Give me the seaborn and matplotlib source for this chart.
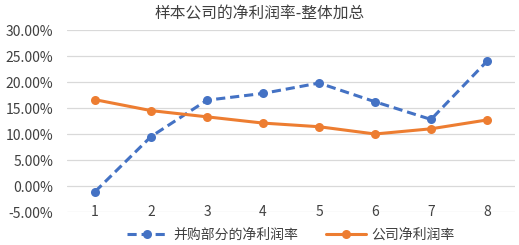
import matplotlib
matplotlib.use('Agg')
import matplotlib.pyplot as plt
import pandas as pd
import seaborn as sns
from matplotlib.ticker import FuncFormatter

periods = [1, 2, 3, 4, 5, 6, 7, 8]
ma_margin = [-1.1, 9.5, 16.5, 17.8, 19.8, 16.2, 12.8, 24.0]
company_margin = [16.6, 14.5, 13.3, 12.1, 11.4, 10.0, 11.0, 12.7]
series_names = ['并购部分的净利润率', '公司净利润率']
title = '样本公司的净利润率-整体加总'

sns.set_style('white')
plt.rcParams['font.family'] = ['Noto Sans CJK SC', 'DejaVu Sans']

df = pd.DataFrame({'period': periods, 'ma': ma_margin, 'co': company_margin})

fig = plt.figure(figsize=(5.19, 2.45), dpi=100)
ax = fig.add_axes([67 / 519, 1 - 212 / 245, 448 / 519, 182 / 245])

sns.lineplot(data=df, x='period', y='ma', ax=ax, color='#4472C4', linewidth=2.2,
             linestyle=(0, (3, 1.6)), marker='o', markersize=6.5, markeredgewidth=0,
             label=series_names[0])
sns.lineplot(data=df, x='period', y='co', ax=ax, color='#ED7D31', linewidth=2.2,
             marker='o', markersize=6.5, markeredgewidth=0, label=series_names[1])

ax.set_xlim(0.5, 8.5)
ax.set_ylim(-5, 30)
ax.set_yticks(range(-5, 31, 5))
ax.set_xticks(periods)
ax.yaxis.set_major_formatter(FuncFormatter(lambda v, p: f'{v:.2f}%'))
ax.grid(axis='y', color='#D9D9D9', linewidth=0.9)
ax.set_axisbelow(True)
for s in ax.spines.values():
    s.set_visible(False)
ax.tick_params(axis='y', length=0, labelsize=10, colors='#404040', pad=10)
ax.tick_params(axis='x', length=0, labelsize=10, colors='#404040', pad=-5)
ax.set_xlabel('')
ax.set_ylabel('')

fig.text(0.5, 1 - 14 / 245, title, ha='center', va='center', fontsize=11.3, color='#404040')

ax.legend(loc='center', bbox_to_anchor=(0.5, (212 - 235) / 182), ncol=2, frameon=False,
          fontsize=10, handlelength=2.9, columnspacing=2.0, handletextpad=0.4,
          labelcolor='#404040')

fig.savefig('out.png', dpi=100)
